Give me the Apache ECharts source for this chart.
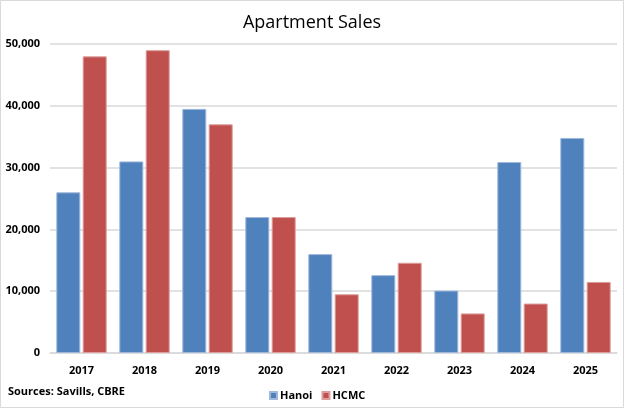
<!DOCTYPE html>
<html>
<head>
<meta charset="utf-8">
<script src="https://cdn.jsdelivr.net/npm/echarts@6/dist/echarts.min.js"></script>
<style>
  html, body { margin: 0; padding: 0; background: #fff; }
  #chart { width: 624px; height: 408px; }
</style>
</head>
<body>
<div id="chart"></div>
<script>
  // data
  var years = ['2017', '2018', '2019', '2020', '2021', '2022', '2023', '2024', '2025']
  var hanoi = [26000, 31000, 39500, 22000, 16000, 12600, 10100, 30900, 34800]
  var hcmc = [48000, 49000, 37000, 22000, 9500, 14600, 6400, 8000, 11500]
  var yTicks = [0, 10000, 20000, 30000, 40000, 50000]

  var font = 'Open Sans, Liberation Sans, sans-serif'
  var chart = echarts.init(document.getElementById('chart'))

  chart.setOption({
    animation: false,
    color: ['#4F81BD', '#C0504D'],
    title: {
      text: 'Apartment Sales',
      left: 'center',
      top: 9,
      textStyle: { fontFamily: font, fontSize: 18, fontWeight: 'normal', color: '#000' }
    },
    legend: {
      data: ['Hanoi', 'HCMC'],
      left: 264,
      top: 385,
      itemWidth: 7,
      itemHeight: 7,
      itemGap: 9,
      icon: 'rect',
      textStyle: { fontFamily: font, fontSize: 11, fontWeight: 'bold', color: '#000', padding: [0, 0, 0, -2] }
    },
    graphic: [
      {
        type: 'rect',
        shape: { x: 0.5, y: 0.5, width: 623, height: 407 },
        style: { fill: 'none', stroke: '#d9d9d9', lineWidth: 1 },
        silent: true
      },
      {
        type: 'text',
        left: 8,
        top: 386,
        style: { text: 'Sources: Savills, CBRE', font: 'bold 11px ' + font, fill: '#000' }
      }
    ],
    grid: { left: 50, right: 7, top: 44, bottom: 55, containLabel: false },
    xAxis: {
      type: 'category',
      data: years,
      axisTick: { show: false },
      axisLine: { lineStyle: { color: '#d9d9d9', width: 1.5 } },
      axisLabel: { fontFamily: font, fontSize: 11, fontWeight: 'bold', color: '#000', margin: 12 }
    },
    yAxis: {
      type: 'value',
      min: yTicks[0],
      max: yTicks[yTicks.length - 1],
      interval: 10000,
      axisLine: { show: false },
      axisTick: { show: false },
      splitLine: { lineStyle: { color: '#d9d9d9', width: 1.5 } },
      axisLabel: {
        fontFamily: font, fontSize: 11, fontWeight: 'bold', color: '#000', margin: 10,
        formatter: function (v) { return v.toLocaleString('en-US') }
      }
    },
    series: [
      {
        name: 'Hanoi',
        type: 'bar',
        data: hanoi,
        barGap: '10%',
        barCategoryGap: '20%',
        itemStyle: { borderColor: '#9fb8dc', borderWidth: 1 }
      },
      {
        name: 'HCMC',
        type: 'bar',
        data: hcmc,
        itemStyle: { borderColor: '#dc9d9b', borderWidth: 1 }
      }
    ]
  })
</script>
</body>
</html>
